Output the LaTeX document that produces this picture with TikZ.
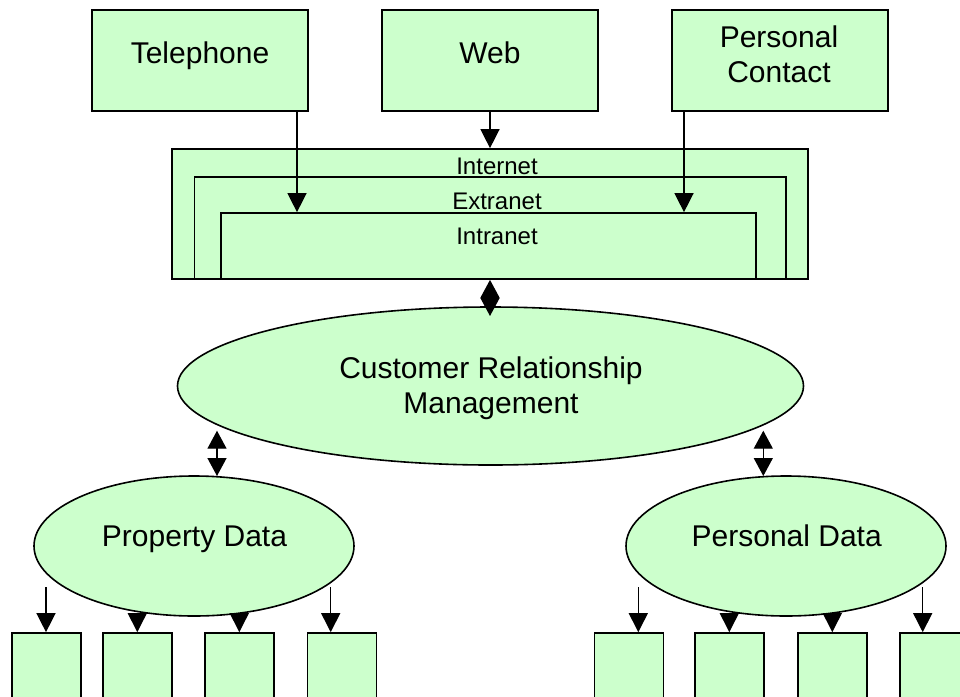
\documentclass[tikz,border=0pt]{standalone}
\usepackage{fontspec}
\setmainfont{Liberation Sans}
\usetikzlibrary{arrows.meta,shapes.geometric}
\definecolor{boxgreen}{RGB}{204,255,204}
\tikzset{
  shapebox/.style={draw=black, fill=boxgreen, line width=1.7pt, rectangle, inner sep=0pt},
  oval/.style={draw=black, fill=boxgreen, line width=1.6pt, ellipse, inner sep=0pt},
  bottombox/.style={shapebox, minimum width=69pt, minimum height=90pt},
  topbox/.style={shapebox, minimum width=216pt, minimum height=101pt},
  biglbl/.style={font=\fontsize{30}{35}\selectfont, inner sep=0pt, anchor=base},
  netlbl/.style={font=\fontsize{24}{28}\selectfont, inner sep=0pt, anchor=base},
  arr/.style={line width=1.4pt, -{Triangle[length=19pt,width=19pt]}},
  dbl/.style={line width=1.4pt, {Triangle[length=18pt,width=19pt]}-{Triangle[length=18pt,width=19pt]}},
}
\begin{document}
\begin{tikzpicture}[x=1pt,y=-1pt]
\clip (0,0) rectangle (960,696);
\fill[white] (0,0) rectangle (960,696);

% top boxes
\node[topbox] (tel) at (200,60.5) {};
\node[biglbl] (telT) at (200,63.5) {Telephone};
\node[topbox] (web) at (490,60.5) {};
\node[biglbl] (webT) at (490,63.5) {Web};
\node[topbox] (pc) at (780,60.5) {};
\node[biglbl] (pcT1) at (779,47.5) {Personal};
\node[biglbl] (pcT2) at (779,82.5) {Contact};

% network boxes
\node[shapebox, minimum width=636pt, minimum height=130pt] (inet) at (490,214) {};
\node[shapebox, minimum width=591.5pt, minimum height=102pt] (extra) at (490.25,228) {};
\node[shapebox, minimum width=535pt, minimum height=66pt] (intra) at (488.5,246) {};
\node[netlbl] (inetT) at (497,174.5) {Internet};
\node[netlbl] (extraT) at (497,209.5) {Extranet};
\node[netlbl] (intraT) at (497,244.5) {Intranet};

% ellipses
\node[oval, minimum width=626pt, minimum height=158pt] (crm) at (490.5,386) {};
\node[biglbl] (crmT1) at (491,378) {Customer Relationship};
\node[biglbl] (crmT2) at (491,413) {Management};
\node[oval, minimum width=320pt, minimum height=140pt] (prop) at (194,546) {};
\node[biglbl] (propT) at (194.5,546.7) {Property Data};
\node[oval, minimum width=320pt, minimum height=140pt] (pers) at (786,546) {};
\node[biglbl] (persT) at (786.7,546.7) {Personal Data};

% bottom boxes
\node[bottombox] (b1) at (46.5,678) {};
\node[bottombox] (b2) at (137.5,678) {};
\node[bottombox] (b3) at (239.5,678) {};
\node[bottombox] (b4) at (342,678) {};
\node[bottombox] (b5) at (629,678) {};
\node[bottombox] (b6) at (729.5,678) {};
\node[bottombox] (b7) at (832.5,678) {};
\node[bottombox] (b8) at (934.5,678) {};

% connectors top
\coordinate (telx) at (297,0);
\coordinate (pcx) at (684,0);
\draw[arr] (tel.south -| telx) -- (intra.north -| telx);
\draw[arr] (web.south) -- (inet.north);
\draw[arr] (pc.south -| pcx) -- (intra.north -| pcx);

% double arrows
\coordinate (crmtip) at (490,316);
\draw[dbl] (inet.south) -- (crmtip);
\coordinate (l1) at (217,430.7);
\coordinate (l2) at (217,476);
\draw[dbl] (l1) -- (l2);
\coordinate (r1) at (763.3,430.7);
\coordinate (r2) at (763.3,476);
\draw[dbl] (r1) -- (r2);

% bottom arrows
\coordinate (s1) at (46,587);
\coordinate (s2) at (137.3,614);
\coordinate (s3) at (239.3,614);
\coordinate (s4) at (330.7,587);
\coordinate (s5) at (638.3,587);
\coordinate (s6) at (729.3,614);
\coordinate (s7) at (832.3,614);
\coordinate (s8) at (922.7,587);
\draw[arr] (s1) -- (s1 |- b1.north);
\draw[arr] (s2) -- (s2 |- b2.north);
\draw[arr] (s3) -- (s3 |- b3.north);
\draw[arr] (s4) -- (s4 |- b4.north);
\draw[arr] (s5) -- (s5 |- b5.north);
\draw[arr] (s6) -- (s6 |- b6.north);
\draw[arr] (s7) -- (s7 |- b7.north);
\draw[arr] (s8) -- (s8 |- b8.north);
\end{tikzpicture}
\end{document}
